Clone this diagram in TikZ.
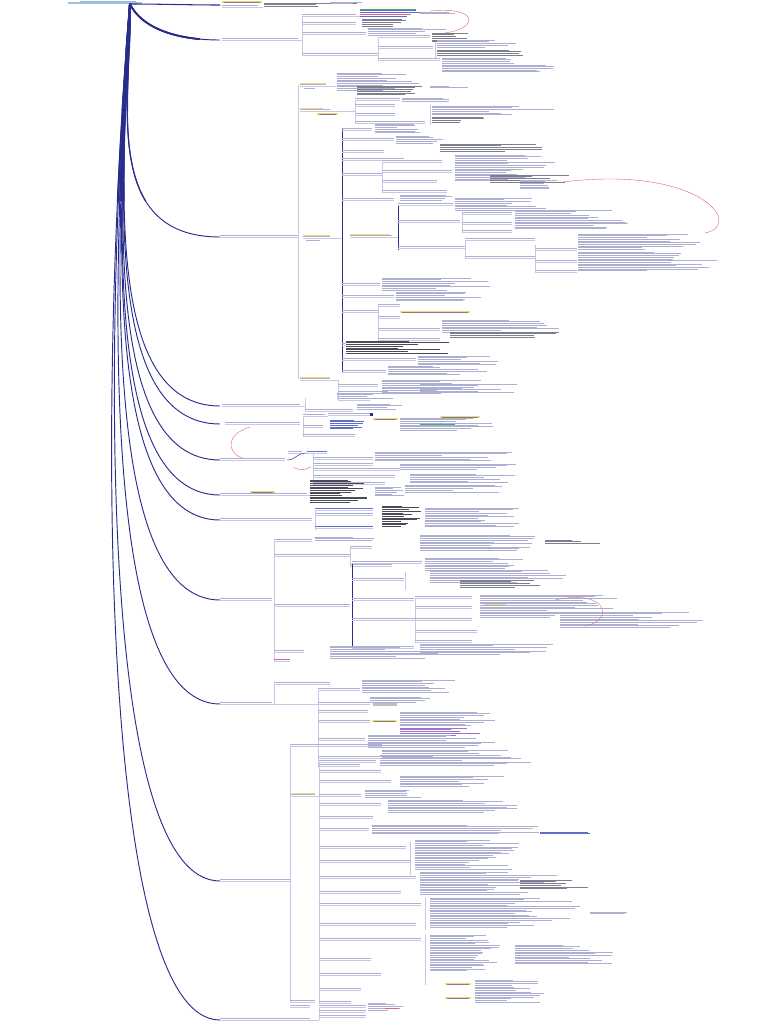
\documentclass[tikz,border=0pt]{standalone}
\usetikzlibrary{arrows.meta}
\definecolor{navy}{RGB}{40,44,140}
\definecolor{lav}{RGB}{200,200,230}
\definecolor{tl}{RGB}{172,175,210}
\definecolor{tdark}{RGB}{125,125,140}
\definecolor{tblack}{RGB}{75,75,88}
\definecolor{tblue}{RGB}{95,110,205}
\definecolor{tgreen}{RGB}{80,165,110}
\definecolor{tpink}{RGB}{220,95,150}
\definecolor{tpurple}{RGB}{155,115,210}
\definecolor{yel}{RGB}{246,214,110}
\definecolor{redc}{RGB}{225,105,105}
\definecolor{rootc}{RGB}{150,195,230}
\tikzset{
  main/.style={draw=navy,line width=0.9pt},
  sub/.style={draw=lav,line width=0.3pt},
  navyline/.style={draw=navy,line width=0.4pt},
  relc/.style={draw=redc,line width=0.35pt},
}
\newcommand\lab[4][tl]{\draw[#1,line width=0.5pt] ({#2},{#3-1.3}) -- ++({#4},0); \draw[sub] ({#2},{#3}) -- ++({#4},0);}
\newcommand\blk[5][tl]{\foreach \k in {1,...,#5}{\pgfmathsetmacro\ww{#4*(0.45+0.55*rnd)}\draw[#1,line width=0.38pt] ({#2},{#3+1.7*(\k-1)}) -- ++(\ww,0);}}
\newcommand\yl[3]{\fill[yel] ({#1},{#2-2.2}) rectangle ++({#3},2.4); \draw[tdark,line width=0.35pt] ({#1+2},{#2-1}) -- ++({#3-4},0);}
\newcommand\vl[3]{\draw[sub] (#1,#2) -- (#1,#3);}
\newcommand\hl[3]{\draw[sub] (#1,#2) -- (#3,#2);}
\newcommand\fan[1]{%
  \draw[main,line width=#1] (root) .. controls (140,25) and (170,40) .. (b2);
  \foreach \n/\y in {b3/237,b4/406,b5/424,b6/460,b7/495,b8/520,b9/600,b10/704,b11/881,b12/1020}{
    \draw[main,line width=#1] (root) .. controls ({142-0.045*\y},{0.4*\y+4}) and (100,\y) .. (\n);}}
\begin{document}
\begin{tikzpicture}[x=0.3mm,y=-0.3mm]
\pgfmathsetseed{7}
\useasboundingbox (0,0) rectangle (768,1024);
% root
\node[coordinate] (root) at (130,4) {};
\draw[rootc,line width=1pt] (68,3) -- (142,3);
\draw[tl,line width=0.5pt] (80,1.2) -- (136,1.2);
% main branches
\foreach \n/\y in {b1/5,b2/40,b3/237,b4/406,b5/424,b6/460,b7/495,b8/520,b9/600,b10/704,b11/881,b12/1020}{\node[coordinate] (\n) at (220,\y) {};}
\draw[main] (root) .. controls (160,4) and (190,5) .. (b1);
\fan{0.8pt}
\foreach \ya/\yb/\lw in {0/200/1.05pt,0/110/1.3pt,0/50/1.6pt}{
  \begin{scope}
  \clip (80,\ya) rectangle (200,\yb);
  \fan{\lw}
  \end{scope}}
% ---------- b1
\yl{222}{3}{40}
\lab{222}{7}{36}
\hl{258}{7}{263}
\blk[tdark]{264}{3}{100}{3}
\blk{330}{2}{45}{2}
% ---------- b2
\lab{222}{40}{76}
\hl{298}{40}{302}
\vl{302}{16}{55}
\lab{302}{16}{54}
\hl{356}{16}{360}
\blk[tgreen]{360}{9}{60}{1}
\blk[tblue]{360}{10.7}{70}{2}
\blk[tpink]{360}{14.1}{65}{1}
\blk[tblue]{360}{15.8}{55}{1}
\blk{420}{12}{45}{2}
\draw[relc] (430,11) .. controls (478,6) and (480,28) .. (445,33);
\lab{302}{24}{54}
\blk[tdark]{362}{19}{60}{5}
\lab{302}{34}{64}
\blk{368}{28}{100}{5}
\lab{302}{55}{76}
\vl{378}{37}{60}
\lab{378}{37}{52}
\blk[tdark]{432}{33}{40}{6}
\lab{378}{48}{55}
\vl{435}{42}{58}
\blk{437}{40}{80}{5}
\blk[tdark]{437}{50}{90}{4}
\lab{378}{60}{62}
\blk{442}{58}{115}{9}
% ---------- b3
\lab{220}{237}{78}
\vl{298}{85}{379}
\yl{300}{85}{26}
\lab{300}{86}{26}
\blk{304}{88.5}{16}{1}
\hl{326}{86}{336}
\blk{337}{73}{85}{11}
\yl{300}{110}{23}
\lab{300}{111}{30}
\yl{317}{115}{21}
\hl{330}{111}{355}
\vl{355}{100}{123}
\blk[tdark]{357}{86}{68}{6}
\blk{430}{86}{40}{2}
\lab{355}{100}{45}
\blk{402}{98}{50}{3}
\lab{355}{106}{40}
\lab{355}{115}{40}
\vl{430}{105}{125}
\blk{432}{106}{125}{6}
\blk[tdark]{432}{117}{60}{4}
\lab{355}{123}{70}
\yl{303}{237}{27}
\lab{303}{238}{27}
\blk{306}{240.5}{18}{1}
\hl{330}{238}{342}
\draw[navyline] (342,128) -- (342,372);
\lab{342}{130}{30}
\blk{375}{124}{45}{6}
\lab{342}{140}{52}
\blk{396}{136}{70}{5}
\blk[tdark]{440}{144}{120}{5}
\lab{342}{152}{42}
\lab{342}{160}{62}
\blk{455}{155}{100}{5}
\lab{342}{175}{40}
\vl{382}{162}{192}
\lab{382}{162}{60}
\lab{382}{172}{70}
\lab{382}{182}{55}
\lab{382}{192}{65}
\blk{455}{162}{110}{12}
\blk[tdark]{490}{175}{80}{5}
\lab{342}{200}{52}
\blk{400}{195}{80}{4}
\blk{520}{180}{40}{6}
\yl{350}{236}{40}
\lab{350}{237}{42}
\hl{392}{237}{398}
\draw[navyline] (398,205) -- (398,250);
\lab{398}{205}{55}
\blk{455}{198}{100}{8}
\lab{398}{222}{62}
\vl{462}{213}{232}
\lab{462}{214}{50}
\lab{462}{224}{50}
\lab{462}{232}{50}
\blk{515}{210}{120}{12}
\lab{398}{248}{67}
\vl{465}{240}{258}
\lab{465}{240}{70}
\lab{465}{258}{70}
\vl{535}{245}{272}
\lab{535}{250}{42}
\lab{535}{262}{42}
\lab{535}{272}{42}
\blk{578}{234}{140}{10}
\blk{578}{252}{150}{12}
\draw[relc] (563,182) .. controls (700,165) and (745,225) .. (705,233);
\lab{342}{285}{38}
\blk{382}{278}{110}{8}
\lab{342}{297}{52}
\blk{396}{292}{100}{6}
\lab{342}{312}{36}
\vl{378}{305}{340}
\lab{378}{306}{22}
\yl{400}{313}{70}
\lab{378}{318}{22}
\lab{378}{330}{62}
\lab{378}{340}{62}
\blk{442}{320}{120}{8}
\blk[tdark]{450}{332}{120}{4}
\lab{342}{345}{4}
\blk[tblack]{346}{341}{112}{8}
\lab{342}{360}{74}
\blk{418}{356}{80}{6}
\lab{342}{372}{44}
\blk{388}{366}{100}{6}
\yl{300}{379}{30}
\lab{300}{380}{30}
\hl{330}{380}{338}
\vl{338}{380}{400}
\lab{338}{386}{40}
\lab{338}{393}{50}
\lab{338}{400}{32}
\blk{382}{380}{100}{9}
% ---------- b4
\lab{222}{406}{78}
\hl{300}{406}{305}
\vl{305}{398}{411}
\lab{305}{411}{48}
\blk{337}{393}{65}{4}
\blk{357}{404}{50}{4}
\blk{420}{384}{100}{6}
% ---------- b5
\lab{225}{424}{75}
\vl{303}{416}{436}
\lab{303}{416}{22}
\hl{325}{416}{328}
\lab{328}{415}{45}
\fill[navy] (370,412.5) rectangle (373,416);
\lab{303}{427}{20}
\lab{303}{436}{52}
\blk[tblue]{330}{420}{40}{6}
\yl{373}{420}{25}
\blk{400}{418}{110}{8}
\yl{440}{418}{40}
\blk[tgreen]{420}{424}{40}{1}
\draw[relc,-{Stealth[length=2pt]}] (250,427) .. controls (226,434) and (226,452) .. (244,459);
% ---------- b6
\lab{220}{460}{65}
\lab{288}{453}{14}
\draw[navyline] (287,460) .. controls (296,460) and (296,453) .. (307,453);
\vl{313}{453}{484}
\lab[tblue]{307}{453}{20}
\lab{313}{459}{60}
\lab{313}{465}{60}
\lab{313}{470}{87}
\lab{313}{477}{82}
\lab{313}{484}{72}
\blk{375}{452}{140}{6}
\blk{400}{464}{120}{4}
\blk{410}{474}{110}{6}
\draw[relc] (293,467) .. controls (300,471) and (305,470) .. (311,467);
% ---------- b7
\lab{220}{495}{87}
\yl{250}{493}{25}
\hl{307}{495}{310}
\blk[tblack]{310}{480}{63}{14}
\blk{375}{487}{30}{6}
\blk{405}{485}{100}{5}
% ---------- b8
\lab{220}{520}{92}
\vl{315}{510}{530}
\lab[tblue]{315}{510}{58}
\lab{315}{515}{58}
\lab[tblue]{315}{528}{58}
\blk[tblack]{382}{506}{40}{13}
\blk{425}{508}{100}{12}
% ---------- b9
\lab{220}{600}{52}
\vl{274}{541}{661}
\lab{274}{541}{38}
\blk{315}{537}{60}{3}
\lab{274}{556}{76}
\vl{350}{546}{566}
\lab{350}{548}{22}
\lab{350}{566}{42}
\blk{420}{535}{130}{10}
\blk[tdark]{545}{540}{60}{3}
\lab{274}{606}{76}
\draw[navyline] (352,563) -- (352,650);
\lab{352}{563}{70}
\blk{425}{558}{100}{8}
\lab{352}{580}{52}
\vl{405}{572}{590}
\blk{430}{570}{140}{8}
\blk[tdark]{460}{580}{100}{5}
\lab{352}{600}{62}
\lab{352}{620}{63}
\vl{415}{598}{642}
\lab{415}{598}{57}
\lab{415}{608}{57}
\lab{415}{620}{57}
\lab{415}{632}{62}
\lab{415}{642}{57}
\yl{484}{606}{22}
\blk{480}{595}{140}{14}
\blk{560}{612}{150}{10}
\draw[relc] (555,600) .. controls (606,588) and (616,620) .. (585,626);
\lab{352}{648}{62}
\blk{420}{644}{140}{7}
\lab{274}{652}{30}
\blk{330}{646}{110}{8}
\lab[tpink]{274}{661}{16}
% ---------- b10
\lab{220}{704}{52}
\vl{274}{684}{704}
\lab{274}{684}{56}
\hl{272}{704}{318}
\vl{318}{690}{766}
\lab{318}{690}{42}
\blk{362}{680}{130}{8}
\lab{318}{704}{52}
\blk{370}{697}{80}{4}
\fill[black!25] (373,703) rectangle (397,705.5);
\lab{318}{712}{50}
\lab{318}{722}{52}
\yl{372}{722}{25}
\blk{400}{712}{120}{9}
\blk[tpurple]{400}{728}{100}{5}
\lab{318}{740}{47}
\blk{368}{735}{150}{8}
\lab{318}{758}{62}
\blk{382}{750}{160}{10}
\lab{318}{766}{42}
% ---------- b11
\lab{220}{881}{70}
\vl{290}{746}{1002}
\lab{290}{746}{92}
\blk{384}{742}{70}{3}
\yl{292}{795}{23}
\lab{290}{796}{25}
\hl{315}{796}{319}
\vl{319}{762}{1003}
\lab{319}{762}{57}
\blk{380}{755}{100}{7}
\lab{319}{772}{62}
\lab{319}{782}{72}
\blk{400}{776}{110}{7}
\lab{319}{796}{42}
\blk{365}{790}{60}{5}
\lab{319}{805}{62}
\blk{388}{800}{140}{8}
\lab{319}{818}{54}
\lab{319}{830}{50}
\blk{372}{825}{180}{6}
\blk[tblue]{540}{832}{80}{2}
\lab{319}{848}{87}
\vl{410}{842}{875}
\blk{415}{840}{110}{18}
\lab{319}{862}{92}
\lab{319}{878}{97}
\blk{420}{872}{140}{14}
\blk[tdark]{520}{880}{70}{6}
\lab{319}{893}{82}
\lab{319}{905}{102}
\vl{425}{898}{930}
\blk{430}{898}{160}{18}
\blk{590}{912}{50}{2}
\lab{319}{925}{97}
\lab{319}{940}{102}
\vl{425}{935}{985}
\blk{430}{935}{80}{22}
\blk{515}{945}{100}{12}
\lab{319}{960}{52}
\lab{319}{975}{62}
\yl{445}{985}{26}
\yl{445}{999}{26}
\lab{319}{990}{42}
\blk{475}{980}{70}{14}
\lab{319}{1003}{32}
\lab{290}{1002}{25}
% ---------- b12
\lab{220}{1020}{90}
\lab{290}{1007}{20}
\hl{310}{1020}{319}
\vl{319}{1007}{1020}
\lab{319}{1007}{47}
\lab{319}{1012}{47}
\lab{319}{1017}{47}
\blk{368}{1003}{35}{5}
\blk[tpink]{385}{1008}{15}{1}
\end{tikzpicture}
\end{document}
